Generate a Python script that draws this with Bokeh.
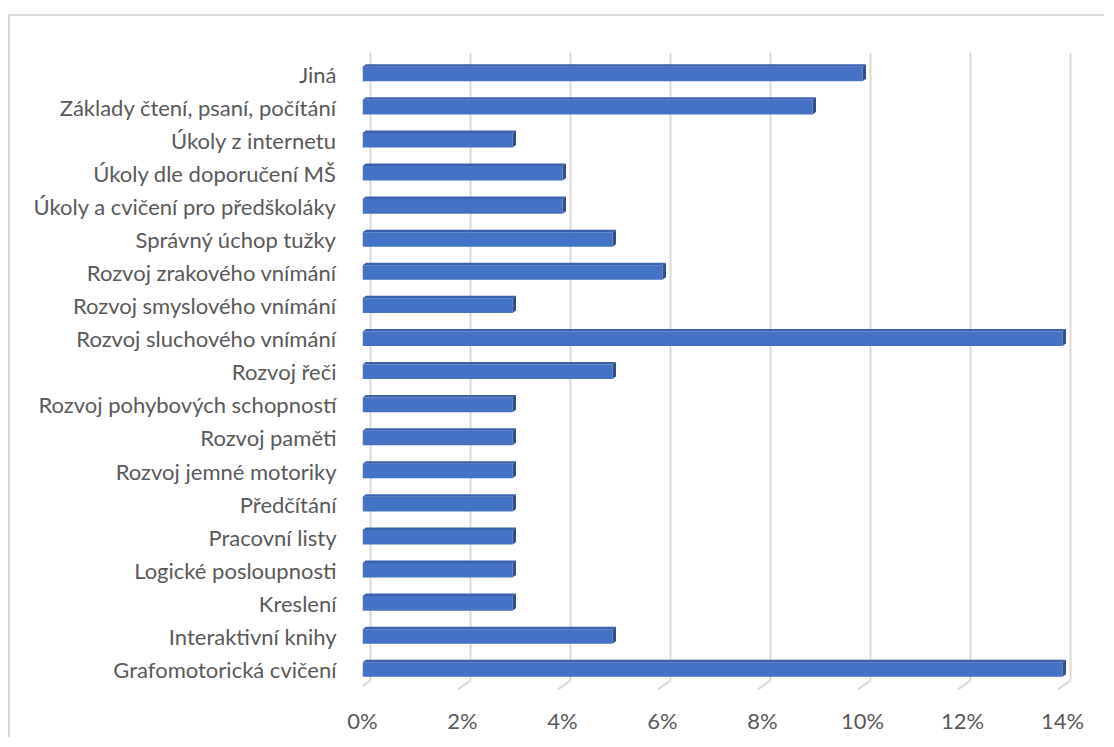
from bokeh.plotting import figure
from bokeh.models import Range1d, FixedTicker, PrintfTickFormatter
from bokeh.embed import file_html
from bokeh.resources import INLINE

# categories listed bottom -> top
categories = [
    "Grafomotorická cvičení",
    "Interaktivní knihy",
    "Kreslení",
    "Logické posloupnosti",
    "Pracovní listy",
    "Předčítání",
    "Rozvoj jemné motoriky",
    "Rozvoj paměti",
    "Rozvoj pohybových schopností",
    "Rozvoj řeči",
    "Rozvoj sluchového vnímání",
    "Rozvoj smyslového vnímání",
    "Rozvoj zrakového vnímání",
    "Správný úchop tužky",
    "Úkoly a cvičení pro předškoláky",
    "Úkoly dle doporučení MŠ",
    "Úkoly z internetu",
    "Základy čtení, psaní, počítání",
    "Jiná",
]
values = [14, 5, 3, 3, 3, 3, 3, 3, 3, 5, 14, 3, 6, 5, 4, 4, 3, 9, 10]
x_ticks = [0, 2, 4, 6, 8, 10, 12, 14]

FRONT = "#4472C4"
TOP = "#3A62AC"
SIDE = "#2F528F"
GRID = "#D9D9D9"
TEXT = "#595959"
FONT = "Lato"

bar_h = 0.44      # front face thickness (category units)
dx, dy = 0.07, 0.076  # 3D depth offset
gshift = 0.16     # gridline depth offset
y0, y1 = -0.846, 18.652
g_bottom = -0.332
diag_end = (-0.25, -0.60)

p = figure(width=1096, height=723,
           x_range=Range1d(0, 14.26), y_range=Range1d(y0, y1),
           output_backend="svg", toolbar_location=None,
           min_border_left=352, min_border_right=31,
           min_border_top=36, min_border_bottom=42)
p.styles = {"margin-top": "14px", "margin-left": "8px",
            "border-top": "2px solid #D9D9D9",
            "border-left": "2px solid #D9D9D9"}
p.outline_line_color = None
p.grid.visible = False
p.background_fill_color = "white"
p.border_fill_color = "white"

# gridlines with 3D floor ticks
gx = [t + gshift for t in x_ticks]
p.segment(x0=gx, y0=[g_bottom] * len(gx), x1=gx, y1=[y1] * len(gx),
          line_color=GRID, line_width=2)
p.segment(x0=gx, y0=[g_bottom] * len(gx),
          x1=[g + diag_end[0] for g in gx], y1=[diag_end[1]] * len(gx),
          line_color=GRID, line_width=2)

idx = list(range(len(categories)))
# front faces
p.hbar(y=idx, left=0, right=values, height=bar_h, fill_color=FRONT, line_color=None)
# top and side faces
top_xs, top_ys, side_xs, side_ys = [], [], [], []
for i, v in zip(idx, values):
    t = i + bar_h / 2
    b = i - bar_h / 2
    top_xs.append([0, v, v + dx, dx])
    top_ys.append([t, t, t + dy, t + dy])
    side_xs.append([v, v + dx, v + dx, v])
    side_ys.append([b, b + dy, t + dy, t])
p.patches(top_xs, top_ys, fill_color=TOP, line_color=None)
p.patches(side_xs, side_ys, fill_color=SIDE, line_color=None)

# axes
p.xaxis.ticker = FixedTicker(ticks=x_ticks)
p.xaxis.formatter = PrintfTickFormatter(format="%d%%")
p.yaxis.ticker = FixedTicker(ticks=idx)
p.yaxis.major_label_overrides = {i: c for i, c in zip(idx, categories)}
for ax in (p.xaxis, p.yaxis):
    ax.axis_line_color = None
    ax.major_tick_line_color = None
    ax.minor_tick_line_color = None
    ax.major_tick_out = 0
    ax.major_tick_in = 0
    ax.major_label_text_font = FONT
    ax.major_label_text_font_size = "22px"
    ax.major_label_text_color = TEXT
p.xaxis.major_label_standoff = 9
p.yaxis.major_label_standoff = 26

open("out.html", "w").write(file_html(p, INLINE))
